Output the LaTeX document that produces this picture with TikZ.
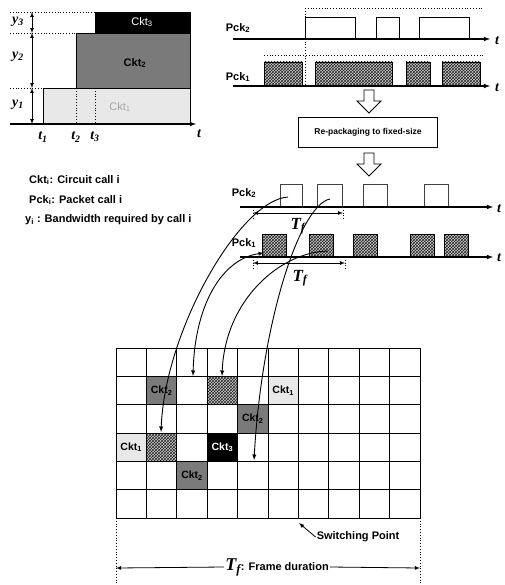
\documentclass[tikz,border=0pt]{standalone}
\usepackage{fontspec}
\setmainfont{Liberation Serif}
\setsansfont{Liberation Sans}
\usetikzlibrary{arrows.meta, patterns}

\begin{document}
\begin{tikzpicture}[x=1pt, y=-1pt, >=latex,
    axis/.style={line width=1.1pt, ->},
    dim/.style={line width=0.7pt, <->},
    dotln/.style={dotted, line width=0.8pt},
    curve/.style={line width=0.9pt, ->},
    pkt/.style={draw, line width=0.6pt, fill=white},
    hpkt/.style={draw, line width=0.5pt, preaction={fill=gray!40}, pattern=crosshatch, pattern color=black!85},
    cktone/.style={fill=gray!18},
    ckttwo/.style={fill=black!52},
    cktthree/.style={fill=black},
    sflab/.style={font=\sffamily\bfseries\fontsize{11}{13}\selectfont, inner sep=1pt},
    cklab/.style={font=\sffamily\bfseries\fontsize{10.5}{12}\selectfont, inner sep=0pt},
    itlab/.style={font=\bfseries\itshape\fontsize{14}{14}\selectfont, inner sep=1pt},
    tflab/.style={font=\bfseries\itshape\fontsize{17}{17}\selectfont, inner sep=1pt},
    downarrow/.pic={\draw[line width=0.8pt, fill=white] (-5,0) -- (5,0) -- (5,11) -- (12,11) -- (0,23) -- (-12,11) -- (-5,11) -- cycle;}]

    \useasboundingbox (0,0) rectangle (504,585);

    % --- Bandbreite der Circuit calls (oben links) ---
    \draw[cktone, draw=black, line width=0.6pt] (43,88) rectangle (190,124);
    \draw[ckttwo, draw=black, line width=0.6pt] (76,33) rectangle (190,88);
    \draw[cktthree, line width=0.6pt] (95,12) rectangle (190,33);
    \draw[dotln] (76,88) -- (76,124);
    \draw[dotln] (95,88) -- (95,124);
    \draw[dotln] (10,12) -- (95,12);
    \draw[dotln] (10,33) -- (76,33);
    \draw[dotln] (10,88) -- (43,88);
    \draw[axis] (10,124) -- (196,124);
    \draw[dim] (32,12) -- (32,33);
    \draw[dim] (32,33) -- (32,88);
    \draw[dim] (32,88) -- (32,124);
    \node[cklab, text=gray!70, font=\sffamily\fontsize{11}{12}\selectfont] (ca1) at (120,107) {Ckt\textsubscript{1}};
    \node[cklab, font=\sffamily\bfseries\fontsize{11}{12}\selectfont] (ca2) at (135,63) {Ckt\textsubscript{2}};
    \node[cklab, text=white, font=\sffamily\fontsize{11}{12}\selectfont] (ca3) at (142,22) {Ckt\textsubscript{3}};
    \node[itlab] (yy3) at (18,22) {y\textsubscript{3}};
    \node[itlab] (yy2) at (18,57) {y\textsubscript{2}};
    \node[itlab] (yy1) at (18,105) {y\textsubscript{1}};
    \node[itlab] (tt1) at (43,137) {t\textsubscript{1}};
    \node[itlab] (tt2) at (76,137) {t\textsubscript{2}};
    \node[itlab] (tt3) at (95,137) {t\textsubscript{3}};
    \node[itlab] (tta) at (199,134) {t};

    % --- Legende ---
    \node[sflab, anchor=west] (lg1) at (28,180) {Ckt\textsubscript{i}: Circuit call i};
    \node[sflab, anchor=west] (lg2) at (28,200) {Pck\textsubscript{i}: Packet call i};
    \node[sflab, anchor=west] (lg3) at (24,220) {y\textsubscript{i} : Bandwidth required by call i};

    % --- Packet calls vor dem Umpacken (oben rechts) ---
    \draw[dotln] (305,8) -- (483,8);
    \draw[dotln] (264,55) -- (483,55);
    \draw[dotln] (305,8) -- (305,86);
    \draw[pkt] (305,17) rectangle (355,39);
    \draw[pkt] (376,17) rectangle (399,39);
    \draw[pkt] (419,17) rectangle (469,39);
    \draw[hpkt] (264,62) rectangle (302,86);
    \draw[hpkt] (315,62) rectangle (392,86);
    \draw[hpkt] (406,62) rectangle (430,86);
    \draw[hpkt] (442,62) rectangle (480,86);
    \draw[axis] (233,39) -- (490,39);
    \draw[axis] (233,86) -- (490,86);
    \node[sflab] (pa2) at (238,28) {Pck\textsubscript{2}};
    \node[sflab] (pa1) at (238,77) {Pck\textsubscript{1}};
    \node[itlab] (tp2) at (497,41) {t};
    \node[itlab] (tp1) at (497,88) {t};

    % Umpacken
    \pic at (369,90) {downarrow};
    \node[sflab, draw, line width=0.7pt, minimum width=139pt, minimum height=30pt,
          font=\sffamily\bfseries\fontsize{8.5}{10}\selectfont] (repack) at (368,132) {Re-packaging to fixed-size};
    \pic at (369,153) {downarrow};

    % --- Packet calls mit fester Groesse ---
    \draw[pkt, draw=black!75] (280,184) rectangle (302,207);
    \draw[pkt, draw=black!75] (317,184) rectangle (342,207);
    \draw[pkt, draw=black!75] (363,184) rectangle (387,207);
    \draw[pkt, draw=black!75] (424,184) rectangle (448,207);
    \draw[hpkt] (262,234) rectangle (286,257);
    \draw[hpkt] (309,234) rectangle (333,257);
    \draw[hpkt] (353,234) rectangle (377,257);
    \draw[hpkt] (410,234) rectangle (434,257);
    \draw[hpkt] (444,234) rectangle (468,257);
    \draw[axis] (240,207) -- (493,207);
    \draw[axis] (240,257) -- (493,257);
    \node[sflab] (pb2) at (244,193) {Pck\textsubscript{2}};
    \node[sflab] (pb1) at (244,243) {Pck\textsubscript{1}};
    \node[itlab] (tq2) at (499,209) {t};
    \node[itlab] (tq1) at (499,258) {t};

    % T_f Bemassung
    \draw[dotln] (253,207) -- (253,219);
    \draw[dotln] (343,207) -- (343,219);
    \draw[dim] (253,213) -- (343,213);
    \node[tflab] (tf2) at (298,226) {T\textsubscript{f}};
    \draw[dotln] (253,257) -- (253,269);
    \draw[dotln] (345,257) -- (345,269);
    \draw[dim] (253,263) -- (345,263);
    \node[tflab] (tf1) at (300,278) {T\textsubscript{f}};

    % --- Rahmen (Zeitschlitze) ---
    \fill[ckttwo] (146.4,376.3) rectangle (176.8,404.7);
    \fill[hpkt, draw=none] (207.2,376.3) rectangle (237.6,404.7);
    \fill[cktone] (268,376.3) rectangle (298.4,404.7);
    \fill[ckttwo] (237.6,404.7) rectangle (268,433);
    \fill[cktone] (116,433) rectangle (146.4,461.3);
    \fill[hpkt, draw=none] (146.4,433) rectangle (176.8,461.3);
    \fill[cktthree] (207.2,433) rectangle (237.6,461.3);
    \fill[ckttwo] (176.8,461.3) rectangle (207.2,489.7);
    \foreach \i in {0,...,10}
        \draw[line width=0.9pt] ({116+30.4*\i},348) -- ({116+30.4*\i},518);
    \foreach \j in {0,...,6}
        \draw[line width=0.9pt] (116,{348+28.33*\j}) -- (420,{348+28.33*\j});
    \draw[line width=1.8pt] (298.4,348) -- (298.4,518);
    \node[cklab] (gc1) at (161.6,390.5) {Ckt\textsubscript{2}};
    \node[cklab] (gc2) at (283.2,390.5) {Ckt\textsubscript{1}};
    \node[cklab] (gc3) at (252.8,418.8) {Ckt\textsubscript{2}};
    \node[cklab] (gc4) at (131.2,447.2) {Ckt\textsubscript{1}};
    \node[cklab, text=white] (gc5) at (222.4,447.2) {Ckt\textsubscript{3}};
    \node[cklab] (gc6) at (192,475.5) {Ckt\textsubscript{2}};

    % Zuordnung Pakete -> Zeitschlitze
    \coordinate (s1) at (288,197);
    \coordinate (s2) at (330,199);
    \coordinate (s3) at (264,253);
    \coordinate (s4) at (328,251);
    \coordinate (g1) at (161,432);
    \coordinate (g2) at (193,376);
    \coordinate (g3) at (222,376);
    \coordinate (g4) at (254,460);
    \draw[curve] (s1) .. controls (240,200) and (165,330) .. (g1);
    \draw[curve] (s2) .. controls (300,205) and (262,320) .. (g4);
    \draw[curve, <->] (s3) .. controls (225,258) and (195,300) .. (g2);
    \draw[curve] (s4) .. controls (280,252) and (225,300) .. (g3);

    % Umschaltpunkt und Rahmendauer
    \coordinate (swpt) at (299,523);
    \node[sflab] (sw) at (358,537) {Switching Point};
    \draw[->, line width=0.8pt] (sw.west) -- (swpt);
    \draw[dotln] (116,518) -- (116,585);
    \draw[dotln] (420,518) -- (420,585);
    \coordinate (fdl) at (116,568);
    \coordinate (fdr) at (420,568);
    \node[sflab] (fd) at (277,567) {{\bfseries\itshape\rmfamily\fontsize{18}{18}\selectfont T\textsubscript{f}}: Frame duration};
    \draw[->, line width=0.8pt] (fd.west) -- (fdl);
    \draw[->, line width=0.8pt] (fd.east) -- (fdr);

\end{tikzpicture}
\end{document}
